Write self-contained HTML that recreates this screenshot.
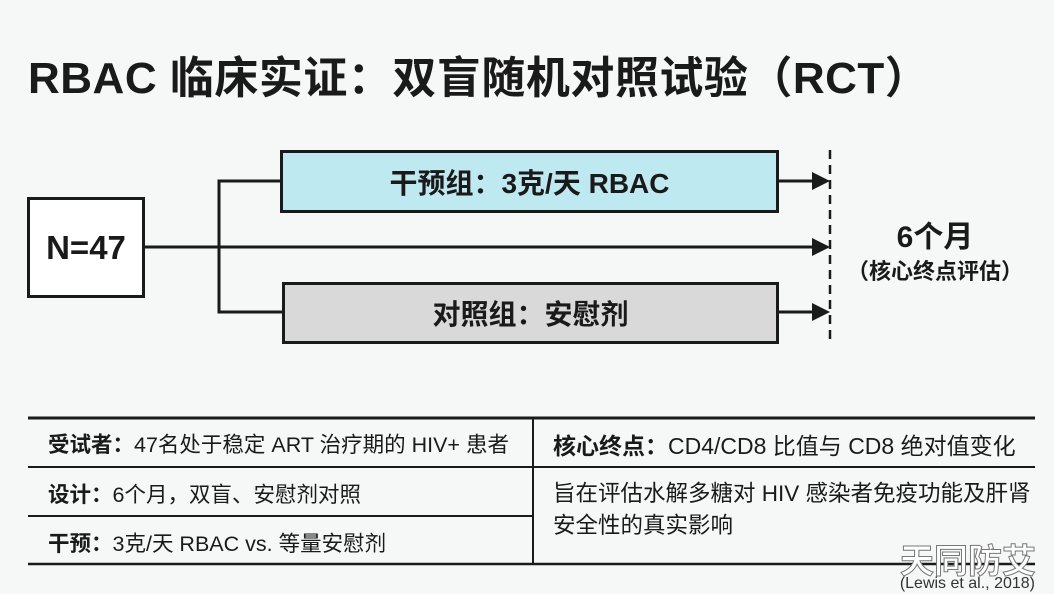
<!DOCTYPE html>
<html><head><meta charset="utf-8"><style>
body{margin:0;width:1054px;height:594px;background:#f6f7f7;overflow:hidden;position:relative;font-family:"Liberation Sans","Noto Sans CJK SC",sans-serif;color:#1a1a1a}
.a{position:absolute}
.title{left:28px;top:42px;font-size:44px;font-weight:bold;white-space:nowrap;letter-spacing:0.5px}
.box{position:absolute;border:3px solid #1a1a1a;box-sizing:border-box;display:flex;align-items:center;justify-content:center;font-weight:bold}
.cell{position:absolute;font-size:21.5px;white-space:nowrap}
</style></head><body>
<div class="a title">RBAC 临床实证：双盲随机对照试验（RCT）</div>
<svg class="a" style="left:0;top:0" width="1054" height="594">
<g stroke="#1a1a1a" stroke-width="3" fill="none">
<line x1="144" y1="247" x2="815" y2="247"/>
<polyline points="280,181 219,181 219,312 282,312"/>
<line x1="778" y1="181" x2="815" y2="181"/>
<line x1="778" y1="312" x2="815" y2="312"/>
<line x1="830" y1="150" x2="830" y2="343" stroke-width="2.5" stroke-dasharray="9,6"/>
<line x1="28" y1="418" x2="1035" y2="418" stroke-width="3"/>
<line x1="28" y1="564" x2="1035" y2="564" stroke-width="2.5"/>
<line x1="28" y1="467" x2="1035" y2="467" stroke-width="2"/>
<line x1="28" y1="516" x2="533" y2="516" stroke-width="2"/>
<line x1="533" y1="418" x2="533" y2="564" stroke-width="2"/>
</g>
<g fill="#1a1a1a">
<polygon points="812,172 830,181 812,190"/>
<polygon points="812,238 830,247 812,256"/>
<polygon points="812,303 830,312 812,321"/>
</g>
</svg>
<div class="box" style="left:27px;top:197px;width:118px;height:101px;background:#fff;font-size:33px">N=47</div>
<div class="box" style="left:280px;top:150px;width:499px;height:63px;background:#bfe9f0;font-size:28px">干预组：3克/天 RBAC</div>
<div class="box" style="left:282px;top:282px;width:497px;height:62px;background:#d9d9d9;font-size:28px">对照组：安慰剂</div>
<div class="a" style="left:845px;top:212px;width:180px;text-align:center;font-weight:bold;font-size:30px">6个月</div>
<div class="a" style="left:845px;top:254px;width:180px;text-align:center;font-weight:bold;font-size:22px;white-space:nowrap">（核心终点评估）</div>
<div class="cell" style="left:48px;top:428px"><b>受试者：</b>47名处于稳定 ART 治疗期的 HIV+ 患者</div>
<div class="cell" style="left:48px;top:478px"><b>设计：</b>6个月，双盲、安慰剂对照</div>
<div class="cell" style="left:48px;top:527px"><b>干预：</b>3克/天 RBAC vs. 等量安慰剂</div>
<div class="cell" style="left:553px;top:428px;font-size:23px;top:427px"><b>核心终点：</b>CD4/CD8 比值与 CD8 绝对值变化</div>
<div class="cell" style="left:553px;top:478px;line-height:32px;font-size:22.5px">旨在评估水解多糖对 HIV 感染者免疫功能及肝肾<br>安全性的真实影响</div>
<div class="a" style="left:900px;top:534px;font-size:34px;color:#fff;-webkit-text-stroke:1px #777;font-weight:bold">天同防艾</div>
<div class="a" style="right:19px;top:575px;font-size:16px;color:#333">(Lewis et al., 2018)</div>
</body></html>
